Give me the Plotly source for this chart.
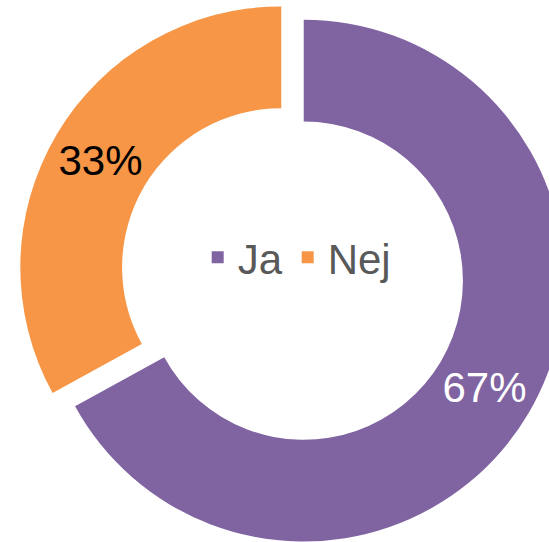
import plotly.graph_objects as go

labels = ["Ja", "Nej"]
values = [67, 33]
colors = ["#8064A2", "#F79646"]
text_colors = ["#FFFFFF", "#000000"]

fig = go.Figure(go.Pie(
    labels=labels,
    values=values,
    hole=0.61,
    sort=False,
    direction="clockwise",
    rotation=0,
    pull=[0.05, 0.05],
    marker=dict(colors=colors, line=dict(width=0)),
    textinfo="percent",
    textposition="inside",
    insidetextorientation="horizontal",
    textfont=dict(family="Arial, Liberation Sans, sans-serif", size=42, color=text_colors),
    hoverinfo="label+percent",
))

fig.update_layout(
    width=585,
    height=548,
    margin=dict(l=0, r=0, t=0, b=0),
    paper_bgcolor="white",
    plot_bgcolor="white",
    showlegend=True,
    legend=dict(
        orientation="h",
        x=0.508, xanchor="center",
        y=0.53, yanchor="middle",
        font=dict(family="Arial, Liberation Sans, sans-serif", size=42, color="#595959"),
        bgcolor="rgba(0,0,0,0)",
    ),
)

fig.write_html(
    "out.html",
    post_script="document.documentElement.style.overflow='hidden';document.body.style.overflow='hidden';document.body.style.margin='0';",
)
